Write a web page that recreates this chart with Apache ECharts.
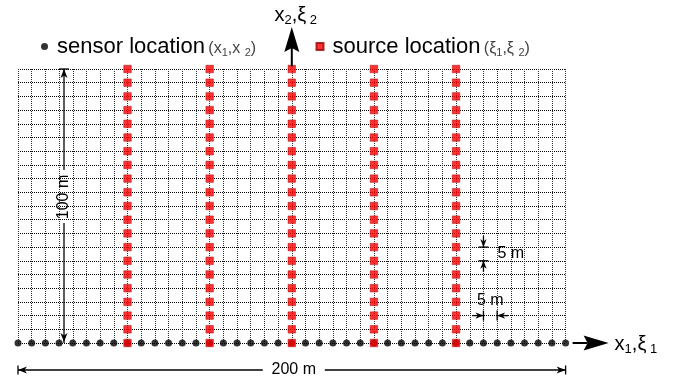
<!DOCTYPE html>
<html>
<head>
<meta charset="utf-8">
<script src="https://cdn.jsdelivr.net/npm/echarts@6/dist/echarts.min.js"></script>
<style>html,body{margin:0;padding:0;background:#fff;}#c{width:675px;height:381px;}</style>
</head>
<body>
<div id="c"></div>
<script>
// ---- data (metres) ----
const sensorX = [-100,-95,-90,-85,-80,-75,-70,-65,-60,-55,-50,-45,-40,-35,-30,-25,-20,-15,-10,-5,0,5,10,15,20,25,30,35,40,45,50,55,60,65,70,75,80,85,90,95,100];
const sensorY = [0];
const sourceX = [-60,-30,0,30,60];
const sourceY = [0,5,10,15,20,25,30,35,40,45,50,55,60,65,70,75,80,85,90,95,100];
const seriesNames = ['sensor location','source location'];
const annotationLabels = ['100 m','200 m','5 m','5 m'];

const sensorData = [];
sensorY.forEach(y => sensorX.forEach(x => sensorData.push([x, y])));
const sourceData = [];
sourceX.forEach(x => sourceY.forEach(y => sourceData.push([x, y])));

const FONT = '"Liberation Sans", Arial, sans-serif';
const chart = echarts.init(document.getElementById('c'), null, {renderer:'canvas'});

function legendCfg(name, left, sub){
  return {
    data:[{name:name}],
    left:left, top:30,
    itemWidth:7, itemHeight:7,
    selectedMode:false,
    formatter: n => '{p|}{a|' + n + '} ' + sub,
    textStyle:{
      fontFamily:FONT,
      rich:{
        p:{width:4, fontSize:22, lineHeight:26},
        a:{fontSize:22, color:'#000', fontFamily:FONT, lineHeight:26},
        b:{fontSize:16, color:'#444', fontFamily:FONT, verticalAlign:'middle', lineHeight:22, padding:[4,0,0,0]},
        c:{fontSize:11, color:'#444', fontFamily:FONT, verticalAlign:'middle', lineHeight:14, padding:[12,0,0,0]}
      }
    }
  };
}

const option = {
  animation:false,
  backgroundColor:'#fff',
  legend:[
    legendCfg(seriesNames[0], 36, '{b|(x}{c|1}{b|,x }{c|2}{b|)}'),
    legendCfg(seriesNames[1], 310.5, '{b|(ξ}{c|1}{b|,ξ }{c|2}{b|)}')
  ],
  grid:{left:18, right:109.4, top:69, bottom:38, containLabel:false},
  xAxis:{
    type:'value', min:-100, max:100, interval:5,
    axisLine:{show:false}, axisTick:{show:false}, axisLabel:{show:false},
    splitLine:{show:true, lineStyle:{type:'dotted', color:'#333', width:1}}
  },
  yAxis:{
    type:'value', min:0, max:100, interval:5,
    axisLine:{show:false}, axisTick:{show:false}, axisLabel:{show:false},
    splitLine:{show:true, lineStyle:{type:'dotted', color:'#000', width:1}}
  },
  series:[
    {name:seriesNames[0], type:'scatter', data:sensorData, symbol:'circle', symbolSize:7, clip:false,
     itemStyle:{color:'#000'}, z:3},
    {name:seriesNames[1], type:'scatter', data:sourceData, symbol:'rect', symbolSize:7.5, clip:false,
     itemStyle:{color:'#ff0000', borderColor:'#a00000', borderWidth:0.6}, z:4}
  ]
};
chart.setOption(option);

// ---- annotations anchored through the axes ----
const P = (x, y) => chart.convertToPixel({gridIndex:0}, [x, y]);
const LW = 1.3;
function line(x1,y1,x2,y2,w){return {type:'line', shape:{x1,y1,x2,y2}, style:{stroke:'#000', lineWidth:w||LW}, z:10};}
function head(tx,ty,dx,dy,len,half,notch){
  const px=-dy, py=dx;
  const bx=tx-dx*len, by=ty-dy*len;
  return {type:'polygon', shape:{points:[
    [tx,ty],[bx+px*half,by+py*half],[tx-dx*(len-notch),ty-dy*(len-notch)],[bx-px*half,by-py*half]
  ]}, style:{fill:'#000'}, z:10};
}
function txt(t,x,y,opt){
  return Object.assign({type:'text', z:11, style:Object.assign({text:t, x:x, y:y, fill:'#000',
    font:'16px ' + FONT, align:'center', verticalAlign:'middle'}, (opt||{}).style||{})}, (opt||{}).el||{});
}
const richAxis = {
  m:{fontSize:20, fontFamily:FONT, fill:'#000', lineHeight:23},
  s:{fontSize:13, fontFamily:FONT, fill:'#000', lineHeight:17, verticalAlign:'bottom'}
};

const g = [];
// y axis arrow
const yTop = P(0,100);
g.push(line(yTop[0], yTop[1]-2.5, yTop[0], yTop[1]-22, 2));
g.push(head(yTop[0], yTop[1]-42, 0, -1, 25, 7.5, 4));
g.push({type:'text', z:11, style:{text:'{m|x}{s|2}{m|,ξ}{s| 2}', rich:richAxis, x:yTop[0]+4, y:yTop[1]-54, align:'center', verticalAlign:'middle'}});
// x axis arrow
const xEnd = P(100,0);
g.push(line(xEnd[0]+7, xEnd[1], xEnd[0]+22, xEnd[1], 2));
g.push(head(xEnd[0]+43, xEnd[1], 1, 0, 25, 7.5, 4));
g.push({type:'text', z:11, style:{text:'{m|x}{s|1}{m|,ξ}{s| 1}', rich:richAxis, x:xEnd[0]+49, y:xEnd[1]+1, align:'left', verticalAlign:'middle'}});

// 100 m dimension
const vx = -83.2;
const v1 = P(vx,100), v0 = P(vx,0), vm = P(vx,53.3);
g.push(line(v1[0], v1[1], v1[0], vm[1]-27));
g.push(line(v1[0], vm[1]+26, v1[0], v0[1]));
g.push(line(v1[0]-5, v1[1], v1[0]+5, v1[1]));
g.push(head(v1[0], v1[1], 0, -1, 9, 3.5, 2.5));
g.push(head(v0[0], v0[1]-1, 0, 1, 9, 3.5, 2.5));
g.push(txt(annotationLabels[0], vm[0], vm[1], {el:{rotation:Math.PI/2, x:vm[0], y:vm[1]}, style:{x:0, y:0}}));

// 200 m dimension
const hy = -9.85;
const h0 = P(-100,hy), h1 = P(100,hy), hm = P(0,hy);
g.push(line(h0[0], h0[1], hm[0]-29, h0[1]));
g.push(line(hm[0]+33, h0[1], h1[0], h1[1]));
g.push(line(h0[0], h0[1]-4.5, h0[0], h0[1]+4.5));
g.push(line(h1[0], h1[1]-4.5, h1[0], h1[1]+4.5));
g.push(head(h0[0], h0[1], -1, 0, 9, 3.5, 2.5));
g.push(head(h1[0], h1[1], 1, 0, 9, 3.5, 2.5));
g.push(txt(annotationLabels[1], hm[0]+2, hm[1]));

// 5 m vertical spacing
const a35 = P(70,35), a30 = P(70,30);
g.push(line(a35[0]-5, a35[1], a35[0]+5, a35[1]));
g.push(line(a30[0]-5, a30[1], a30[0]+5, a30[1]));
g.push(line(a35[0], a35[1]-11, a35[0], a35[1]));
g.push(line(a30[0], a30[1], a30[0], a30[1]+11));
g.push(head(a35[0], a35[1], 0, 1, 8, 3.2, 2.3));
g.push(head(a30[0], a30[1], 0, -1, 8, 3.2, 2.3));
g.push(txt(annotationLabels[2], a35[0]+14, (a35[1]+a30[1])/2, {style:{align:'left'}}));

// 5 m horizontal spacing
const b70 = P(70,10), b75 = P(75,10);
g.push(line(b70[0], b70[1]-5, b70[0], b70[1]+5));
g.push(line(b75[0], b75[1]-5, b75[0], b75[1]+5));
g.push(line(b70[0]-11, b70[1], b70[0], b70[1]));
g.push(line(b75[0], b75[1], b75[0]+11, b75[1]));
g.push(head(b70[0], b70[1], 1, 0, 8, 3.2, 2.3));
g.push(head(b75[0], b75[1], -1, 0, 8, 3.2, 2.3));
g.push(txt(annotationLabels[3], (b70[0]+b75[0])/2, b70[1]-15));

chart.setOption({graphic:{elements:g}});
</script>
</body>
</html>
